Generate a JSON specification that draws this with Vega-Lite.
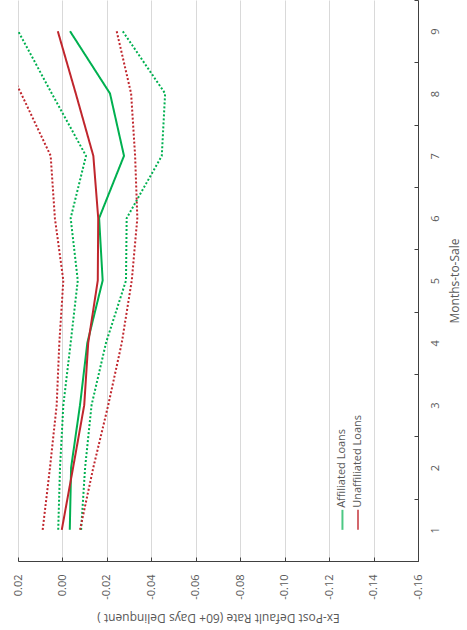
{
  "$schema": "https://vega.github.io/schema/vega-lite/v6.json",
  "width": 400,
  "height": 561,
  "autosize": {"type": "none"},
  "padding": {"left": 18, "top": 0, "right": 49, "bottom": 69},
  "background": "white",
  "config": {
    "view": {"stroke": null},
    "font": "Open Sans",
    "axis": {
      "labelColor": "#595959",
      "titleColor": "#595959",
      "labelFont": "Open Sans",
      "titleFont": "Open Sans",
      "labelFontSize": 11,
      "titleFontSize": 12,
      "titleFontWeight": "normal",
      "domainColor": "#404040",
      "tickColor": "#404040",
      "gridColor": "#d9d9d9",
      "gridWidth": 1
    }
  },
  "datasets": {
    "series": [
      {"month": 1, "series": "Affiliated Loans", "bound": "est", "value": -0.0033},
      {"month": 2, "series": "Affiliated Loans", "bound": "est", "value": -0.0039},
      {"month": 3, "series": "Affiliated Loans", "bound": "est", "value": -0.0079},
      {"month": 4, "series": "Affiliated Loans", "bound": "est", "value": -0.0112},
      {"month": 5, "series": "Affiliated Loans", "bound": "est", "value": -0.0181},
      {"month": 6, "series": "Affiliated Loans", "bound": "est", "value": -0.0165},
      {"month": 7, "series": "Affiliated Loans", "bound": "est", "value": -0.0277},
      {"month": 8, "series": "Affiliated Loans", "bound": "est", "value": -0.0214},
      {"month": 9, "series": "Affiliated Loans", "bound": "est", "value": -0.0034},
      {"month": 1, "series": "Affiliated Loans", "bound": "lo", "value": 0.0019},
      {"month": 2, "series": "Affiliated Loans", "bound": "lo", "value": 0.0011},
      {"month": 3, "series": "Affiliated Loans", "bound": "lo", "value": -0.0004},
      {"month": 4, "series": "Affiliated Loans", "bound": "lo", "value": -0.0037},
      {"month": 5, "series": "Affiliated Loans", "bound": "lo", "value": -0.0069},
      {"month": 6, "series": "Affiliated Loans", "bound": "lo", "value": -0.0037},
      {"month": 7, "series": "Affiliated Loans", "bound": "lo", "value": -0.0106},
      {"month": 8, "series": "Affiliated Loans", "bound": "lo", "value": 0.0048},
      {"month": 9, "series": "Affiliated Loans", "bound": "lo", "value": 0.0199},
      {"month": 1, "series": "Affiliated Loans", "bound": "hi", "value": -0.0084},
      {"month": 2, "series": "Affiliated Loans", "bound": "hi", "value": -0.0102},
      {"month": 3, "series": "Affiliated Loans", "bound": "hi", "value": -0.0131},
      {"month": 4, "series": "Affiliated Loans", "bound": "hi", "value": -0.0196},
      {"month": 5, "series": "Affiliated Loans", "bound": "hi", "value": -0.0286},
      {"month": 6, "series": "Affiliated Loans", "bound": "hi", "value": -0.0289},
      {"month": 7, "series": "Affiliated Loans", "bound": "hi", "value": -0.0447},
      {"month": 8, "series": "Affiliated Loans", "bound": "hi", "value": -0.0462},
      {"month": 9, "series": "Affiliated Loans", "bound": "hi", "value": -0.0271},
      {"month": 1, "series": "Unaffiliated Loans", "bound": "est", "value": 0.0003},
      {"month": 2, "series": "Unaffiliated Loans", "bound": "est", "value": -0.0048},
      {"month": 3, "series": "Unaffiliated Loans", "bound": "est", "value": -0.0098},
      {"month": 4, "series": "Unaffiliated Loans", "bound": "est", "value": -0.0116},
      {"month": 5, "series": "Unaffiliated Loans", "bound": "est", "value": -0.0159},
      {"month": 6, "series": "Unaffiliated Loans", "bound": "est", "value": -0.0161},
      {"month": 7, "series": "Unaffiliated Loans", "bound": "est", "value": -0.0139},
      {"month": 8, "series": "Unaffiliated Loans", "bound": "est", "value": -0.0060},
      {"month": 9, "series": "Unaffiliated Loans", "bound": "est", "value": 0.0021},
      {"month": 1, "series": "Unaffiliated Loans", "bound": "lo", "value": 0.0089},
      {"month": 2, "series": "Unaffiliated Loans", "bound": "lo", "value": 0.0056},
      {"month": 3, "series": "Unaffiliated Loans", "bound": "lo", "value": 0.0026},
      {"month": 4, "series": "Unaffiliated Loans", "bound": "lo", "value": 0.0014},
      {"month": 5, "series": "Unaffiliated Loans", "bound": "lo", "value": -0.0004},
      {"month": 6, "series": "Unaffiliated Loans", "bound": "lo", "value": 0.0034},
      {"month": 7, "series": "Unaffiliated Loans", "bound": "lo", "value": 0.0053},
      {"month": 8, "series": "Unaffiliated Loans", "bound": "lo", "value": 0.0186},
      {"month": 9, "series": "Unaffiliated Loans", "bound": "lo", "value": 0.0326},
      {"month": 1, "series": "Unaffiliated Loans", "bound": "hi", "value": -0.0079},
      {"month": 2, "series": "Unaffiliated Loans", "bound": "hi", "value": -0.0139},
      {"month": 3, "series": "Unaffiliated Loans", "bound": "hi", "value": -0.0206},
      {"month": 4, "series": "Unaffiliated Loans", "bound": "hi", "value": -0.0267},
      {"month": 5, "series": "Unaffiliated Loans", "bound": "hi", "value": -0.0312},
      {"month": 6, "series": "Unaffiliated Loans", "bound": "hi", "value": -0.0337},
      {"month": 7, "series": "Unaffiliated Loans", "bound": "hi", "value": -0.0327},
      {"month": 8, "series": "Unaffiliated Loans", "bound": "hi", "value": -0.0309},
      {"month": 9, "series": "Unaffiliated Loans", "bound": "hi", "value": -0.0244}
    ],
    "legend": [
      {"month": 1, "series": "Affiliated Loans", "value": -0.126},
      {"month": 1, "series": "Unaffiliated Loans", "value": -0.133}
    ]
  },
  "layer": [
    {
      "data": {"name": "series"},
      "mark": {"type": "line", "clip": true, "strokeWidth": 2, "strokeCap": "butt"},
      "encoding": {
        "x": {
          "field": "value",
          "type": "quantitative",
          "scale": {"domain": [-0.16, 0.02], "reverse": true, "nice": false, "zero": false},
          "axis": {
            "orient": "bottom",
            "title": "Ex-Post Default Rate (60+ Days Delinquent )",
            "values": [0.02, 0, -0.02, -0.04, -0.06, -0.08, -0.1, -0.12, -0.14, -0.16],
            "labelExpr": "replace(format(datum.value, '.2f'), '\u2212', '-')",
            "labelAngle": 270,
            "labelAlign": "right",
            "labelBaseline": "middle",
            "labelPadding": 17,
            "tickSize": -4,
            "grid": true,
            "titleAngle": 180,
            "titleBaseline": "bottom",
            "titlePadding": 11
          }
        },
        "y": {
          "field": "month",
          "type": "ordinal",
          "sort": "descending",
          "scale": {"type": "band", "paddingInner": 0, "paddingOuter": 0},
          "axis": {
            "orient": "right",
            "title": "Months-to-Sale",
            "tickBand": "extent",
            "tickSize": -4,
            "grid": false,
            "labelAngle": 270,
            "labelAlign": "center",
            "labelBaseline": "middle",
            "labelPadding": 21,
            "titleAngle": 270,
            "titleBaseline": "top",
            "titlePadding": 9
          }
        },
        "color": {
          "field": "series",
          "type": "nominal",
          "scale": {"domain": ["Affiliated Loans", "Unaffiliated Loans"], "range": ["#00B050", "#C0262D"]},
          "legend": null
        },
        "strokeDash": {
          "field": "bound",
          "type": "nominal",
          "scale": {"domain": ["est", "lo", "hi"], "range": [[1, 0], [2, 2], [2, 2]]},
          "legend": null
        },
        "detail": {"field": "bound"},
        "order": {"field": "month", "type": "quantitative"}
      }
    },
    {
      "data": {"name": "legend"},
      "mark": {"type": "tick", "thickness": 2, "size": 20, "yOffset": -10},
      "encoding": {
        "x": {"field": "value", "type": "quantitative"},
        "y": {"field": "month", "type": "ordinal", "sort": "descending"},
        "color": {"field": "series", "type": "nominal", "legend": null}
      }
    },
    {
      "data": {"name": "legend"},
      "mark": {"type": "text", "angle": 270, "align": "left", "baseline": "middle", "yOffset": -22, "fontSize": 11, "font": "Open Sans", "color": "#595959"},
      "encoding": {
        "x": {"field": "value", "type": "quantitative"},
        "y": {"field": "month", "type": "ordinal", "sort": "descending"},
        "text": {"field": "series"}
      }
    }
  ]
}
